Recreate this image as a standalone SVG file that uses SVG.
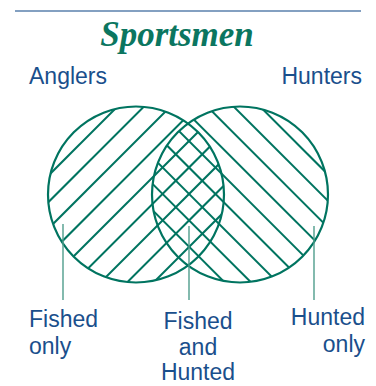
<svg xmlns="http://www.w3.org/2000/svg" width="376" height="386" viewBox="0 0 376 386">
<style>
.lbl{font-family:"Liberation Sans",Arial,sans-serif;font-size:23px;fill:#1a4f8c}
.title{font-family:"Liberation Serif","Times New Roman",serif;font-size:35px;font-weight:bold;font-style:italic;fill:#0b7660}
.circ{fill:none;stroke:#007460;stroke-width:2.2}
.hatch line{stroke:#007460;stroke-width:2}
.lead{stroke:#4f9d8c;stroke-width:1.4}
</style>
<defs>
<clipPath id="clipL"><circle cx="136" cy="194.5" r="88"/></clipPath>
<clipPath id="clipR"><circle cx="240" cy="194.5" r="88"/></clipPath>
</defs>
<line x1="15" y1="11" x2="361" y2="11" stroke="#5a80ad" stroke-width="1.6"/>
<text class="title" x="177" y="46" text-anchor="middle">Sportsmen</text>
<g id="anglers">
<g class="hatch" clip-path="url(#clipL)">
<line x1="-96" y1="320" x2="144" y2="80"/>
<line x1="-69.5" y1="320" x2="170.5" y2="80"/>
<line x1="-43" y1="320" x2="197" y2="80"/>
<line x1="-16.5" y1="320" x2="223.5" y2="80"/>
<line x1="10" y1="320" x2="250" y2="80"/>
<line x1="36.5" y1="320" x2="276.5" y2="80"/>
<line x1="63" y1="320" x2="303" y2="80"/>
<line x1="89.5" y1="320" x2="329.5" y2="80"/>
<line x1="116" y1="320" x2="356" y2="80"/>
</g>
<circle class="circ" cx="136" cy="194.5" r="88"/>
<text class="lbl" x="29" y="84">Anglers</text>
</g>
<g id="hunters">
<g class="hatch" clip-path="url(#clipR)">
<line x1="233.5" y1="80" x2="473.5" y2="320"/>
<line x1="207.1" y1="80" x2="447.1" y2="320"/>
<line x1="180.7" y1="80" x2="420.7" y2="320"/>
<line x1="154.3" y1="80" x2="394.3" y2="320"/>
<line x1="127.9" y1="80" x2="367.9" y2="320"/>
<line x1="101.5" y1="80" x2="341.5" y2="320"/>
<line x1="75.1" y1="80" x2="315.1" y2="320"/>
<line x1="48.7" y1="80" x2="288.7" y2="320"/>
<line x1="22.3" y1="80" x2="262.3" y2="320"/>
</g>
<circle class="circ" cx="240" cy="194.5" r="88"/>
<text class="lbl" x="362" y="84" text-anchor="end">Hunters</text>
</g>
<g id="connectors">
<line class="lead" x1="63" y1="224" x2="63" y2="300"/>
<line class="lead" x1="189" y1="226" x2="189" y2="300"/>
<line class="lead" x1="314" y1="226" x2="314" y2="300"/>
</g>
<g id="fished-only">
<text class="lbl" x="29" y="327">Fished</text>
<text class="lbl" x="29" y="354">only</text>
</g>
<g id="fished-and-hunted">
<text class="lbl" x="198" y="329" text-anchor="middle">Fished</text>
<text class="lbl" x="198" y="355" text-anchor="middle">and</text>
<text class="lbl" x="198" y="380" text-anchor="middle">Hunted</text>
</g>
<g id="hunted-only">
<text class="lbl" x="365" y="325" text-anchor="end">Hunted</text>
<text class="lbl" x="365" y="352" text-anchor="end">only</text>
</g>
</svg>
